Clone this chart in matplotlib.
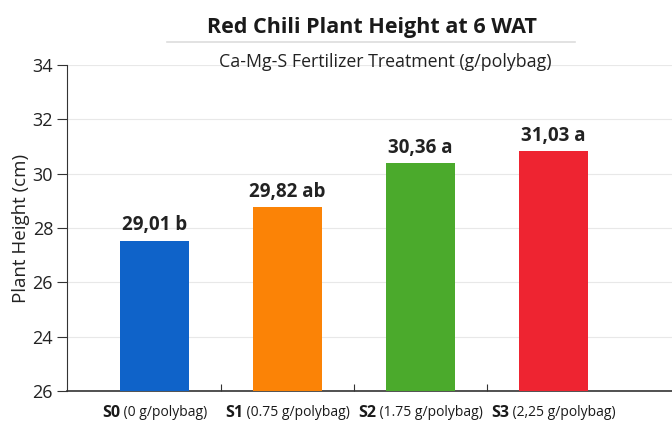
import matplotlib
matplotlib.use("Agg")
import matplotlib.pyplot as plt
from matplotlib import font_manager

names = {f.name for f in font_manager.fontManager.ttflist}
narrow = "Liberation Sans Narrow" if "Liberation Sans Narrow" in names else "Open Sans"

categories_bold = ["S0", "S1", "S2", "S3"]
categories_rest = [" (0 g/polybag)", " (0.75 g/polybag)", " (1.75 g/polybag)", " (2,25 g/polybag)"]
heights = [27.52, 28.77, 30.39, 30.83]
value_labels = ["29,01 b", "29,82 ab", "30,36 a", "31,03 a"]
colors = ["#0F63C9", "#FB8306", "#4BAA2C", "#EE2431"]
ytick_vals = [22, 24, 26, 28, 30, 32, 34]
ytick_labels = ["26", "24", "26", "28", "30", "32", "34"]

plt.rcParams["font.family"] = ["Open Sans", "DejaVu Sans"]

fig = plt.figure(figsize=(6.72, 4.24), dpi=100)
ax = fig.add_axes([67/672, 33/424, 605/672, 326/424])
x = list(range(len(heights)))
ax.bar(x, heights, width=0.52, color=colors, bottom=0, zorder=3)
ax.set_ylim(22, 34)
ax.set_xlim(-0.658, 3.89)
ax.set_yticks(ytick_vals)
ax.set_yticklabels(ytick_labels, fontsize=13, color="#222222")
ax.set_xticks([0.5, 1.5, 2.5])
ax.set_xticklabels([])
ax.tick_params(axis="x", direction="in", length=5, color="#333333")
ax.tick_params(axis="y", direction="out", length=7, color="#333333", pad=3)
for s in ["top", "right"]:
    ax.spines[s].set_visible(False)
ax.spines["left"].set_color("#333333")
ax.spines["bottom"].set_color("#333333")
ax.spines["bottom"].set_linewidth(1.2)
ax.grid(axis="y", color="#E8E8E8", linewidth=0.8, zorder=0)
ax.set_ylabel("Plant Height (cm)", fontsize=13.5, color="#222222", labelpad=2)

for xi, h, lab in zip(x, heights, value_labels):
    ax.annotate(lab, (xi, h), xytext=(0, 4), textcoords="offset points",
                ha="center", va="bottom", fontsize=13.5, fontweight="bold", color="#222222")

fig.text(0.553, 0.935, "Red Chili Plant Height at 6 WAT", ha="center", va="center",
         fontsize=15.5, fontweight="bold", color="#1a1a1a")
fig.add_artist(plt.Line2D([167/672, 575/672], [1-42/424, 1-42/424], color="#DDDDDD", linewidth=1.2))
fig.text(0.573, 0.853, "Ca-Mg-S Fertilizer Treatment (g/polybag)", ha="center", va="center",
         fontsize=12.8, color="#222222")

# category labels with bold prefix
fig.canvas.draw()
renderer = fig.canvas.get_renderer()
ypix = 424 - 413
for xi, b, r in zip(x, categories_bold, categories_rest):
    t1 = fig.text(0, ypix/424, b, fontsize=11.5, fontweight="bold", family=[narrow, "DejaVu Sans"],
                  va="center", ha="left", color="#1a1a1a")
    t2 = fig.text(0, ypix/424, r, fontsize=10, family=[narrow, "DejaVu Sans"],
                  va="center", ha="left", color="#1a1a1a")
    w1 = t1.get_window_extent(renderer).width
    w2 = t2.get_window_extent(renderer).width
    cx = ax.transData.transform((xi, 22))[0]
    left = cx - (w1 + w2) / 2
    t1.set_x(left / fig.bbox.width)
    t2.set_x((left + w1) / fig.bbox.width)

fig.savefig("out.png", dpi=100)
